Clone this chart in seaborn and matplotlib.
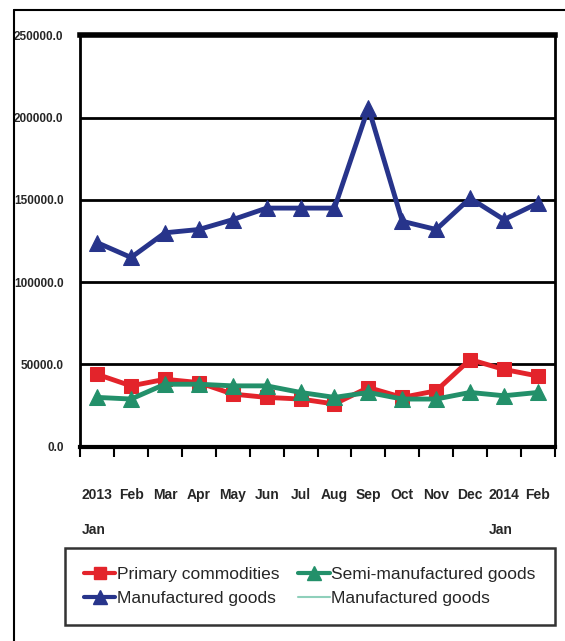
import numpy as np
import pandas as pd
import matplotlib
matplotlib.use("Agg")
import matplotlib.pyplot as plt
from matplotlib.lines import Line2D
import seaborn as sns

months = ["2013\nJan", "Feb", "Mar", "Apr", "May", "Jun", "Jul", "Aug",
          "Sep", "Oct", "Nov", "Dec", "2014\nJan", "Feb"]
primary = [44000, 37000, 41000, 39000, 32000, 30000, 29000, 26000,
           36000, 30000, 34000, 53000, 47000, 43000]
semi = [30000, 29000, 38000, 38000, 37000, 37000, 33000, 30000,
        33000, 29000, 29000, 33000, 31000, 33000]
manufactured = [124000, 115000, 130000, 132000, 138000, 145000, 145000, 145000,
                206000, 137000, 132000, 151000, 138000, 148000]
yticks = [0, 50000, 100000, 150000, 200000, 250000]

sns.set_theme(style="white")
plt.rcParams['font.family'] = ['Liberation Sans', 'DejaVu Sans']

df = pd.DataFrame({"pos": np.arange(len(months)), "Primary commodities": primary,
                   "Semi-manufactured goods": semi, "Manufactured goods": manufactured})

fig = plt.figure(figsize=(5.65, 6.41), dpi=100)
ax = fig.add_axes([0.142, 0.303, 0.840, 0.642])

red = "#e3242b"
green = "#23906a"
blue = "#27348b"
light = "#8fd0bb"

sns.lineplot(data=df, x="pos", y="Primary commodities", ax=ax, color=red, lw=3.5,
             marker="s", markersize=10, markeredgecolor=red)
sns.lineplot(data=df, x="pos", y="Semi-manufactured goods", ax=ax, color=green, lw=3.5,
             marker="^", markersize=11, markeredgecolor=green)
sns.lineplot(data=df, x="pos", y="Manufactured goods", ax=ax, color=blue, lw=3.5,
             marker="^", markersize=12, markeredgecolor=blue)

ax.set_xlim(-0.5, len(months) - 0.5)
ax.set_ylim(0, 250000)
ax.set_yticks(yticks)
ax.set_yticklabels([f"{v:.1f}" for v in yticks], fontsize=8.5, fontweight="bold")
ax.yaxis.grid(True, color="black", lw=2)
ax.set_xticks(np.arange(len(months)))
ax.set_xticklabels(months, fontsize=10, fontweight="bold", linespacing=2.9,
                   va="top", ha="center")
ax.set_xticks(np.arange(-0.5, len(months)), minor=True)
ax.tick_params(axis="x", which="major", length=0, pad=30)
ax.tick_params(axis="x", which="minor", bottom=True, length=7, width=1.5,
               color="black", direction="out")
ax.tick_params(axis="y", length=0, pad=12)
for lab in ax.get_xticklabels():
    lab.set_multialignment("left")
ax.set_xlabel("")
ax.set_ylabel("")
for side, w in [("top", 4), ("bottom", 3), ("left", 2), ("right", 2)]:
    ax.spines[side].set_color("black")
    ax.spines[side].set_linewidth(w)

handles = [
    Line2D([], [], color=red, lw=3, marker="s", markersize=9),
    Line2D([], [], color=blue, lw=3, marker="^", markersize=10),
    Line2D([], [], color=green, lw=3, marker="^", markersize=10),
    Line2D([], [], color=light, lw=1.5),
]
labels = ["Primary commodities", "Manufactured goods",
          "Semi-manufactured goods", "Manufactured goods"]
leg = fig.legend(handles, labels, ncol=2, loc="lower left",
                 bbox_to_anchor=(0.115, 0.025, 0.867, 0.12), mode="expand",
                 fontsize=12.5, frameon=True, fancybox=False, handlelength=1.8,
                 handletextpad=0.1, labelspacing=0.5, borderpad=1.1, borderaxespad=0)
leg.get_frame().set_edgecolor("black")
leg.get_frame().set_linewidth(1.8)

# outer frame lines
fig.add_artist(Line2D([0.024, 0.024], [0.0, 0.985], color="black", lw=1.5,
                      transform=fig.transFigure))
fig.add_artist(Line2D([0.024, 1.0], [0.985, 0.985], color="black", lw=1.5,
                      transform=fig.transFigure))

fig.savefig("out.png", dpi=100)
